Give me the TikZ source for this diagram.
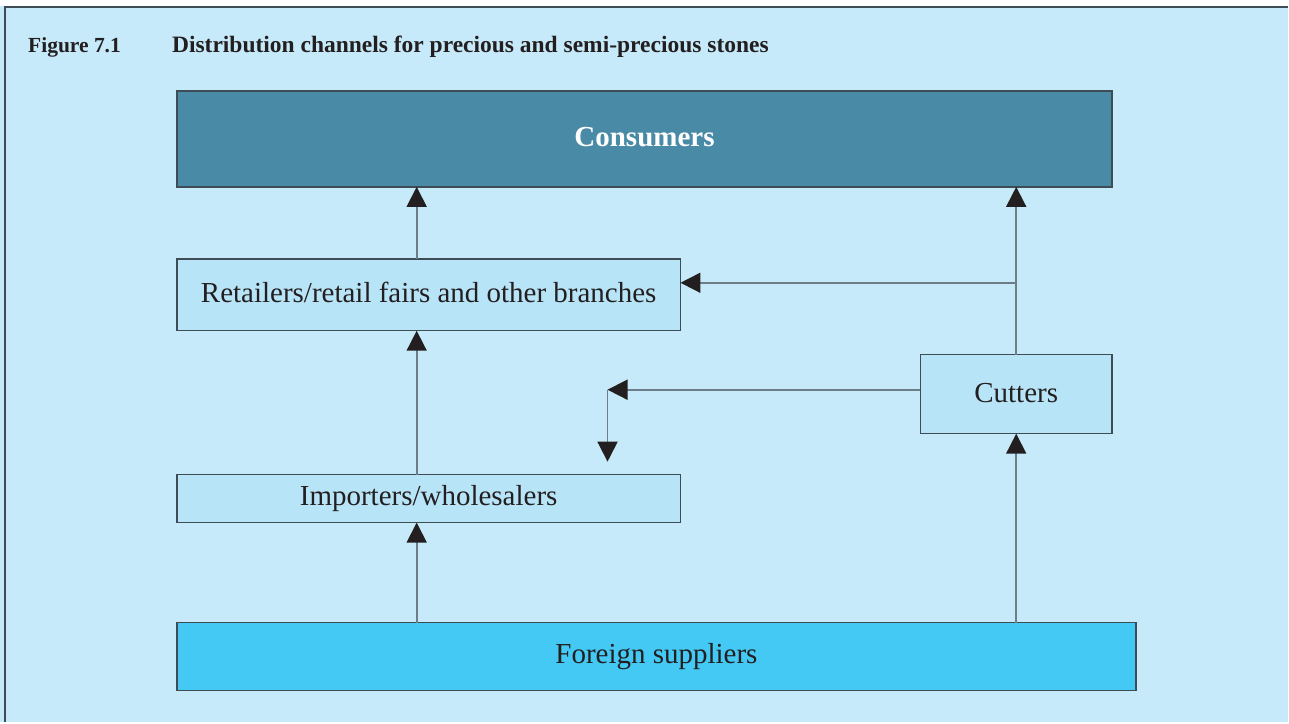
\documentclass[tikz,border=0pt]{standalone}
\usepackage{fontspec}
\setmainfont{Liberation Serif}
\usepackage{xcolor}
\usetikzlibrary{arrows.meta, positioning, calc}
\definecolor{pagebg}{RGB}{198, 234, 249}
\definecolor{boxfill}{RGB}{184, 228, 248}
\definecolor{darkbox}{RGB}{73, 139, 166}
\definecolor{brightbox}{RGB}{67, 201, 244}
\definecolor{edgegray}{RGB}{62, 76, 86}
\definecolor{linegray}{RGB}{110, 126, 136}
\definecolor{tipblack}{RGB}{35, 31, 32}

\begin{document}
\begin{tikzpicture}[x=1pt, y=-1pt,
    box/.style={draw=edgegray, line width=1.4pt, fill=boxfill, inner sep=0pt, outer sep=0pt,
        font=\fontsize{29}{33}\selectfont, text=tipblack},
    heading/.style={anchor=base west, inner sep=0pt, text=tipblack,
        font=\fontsize{22.5}{26}\selectfont\bfseries},
    flow/.style={draw=linegray, line width=1.8pt,
        -{Triangle[length=20pt, width=20pt, fill=tipblack, color=tipblack]}}]
    % Hintergrund und Rahmen
    \fill[pagebg] (0,0) rectangle (1289,723);
    \fill[white] (0,0) rectangle (1289,6);
    \draw[edgegray, line width=2pt] (1289,7) -- (5,7) -- (5,723);
    \useasboundingbox (0,0) rectangle (1289,723);

    % Titel
    \node[heading, font=\fontsize{21.5}{26}\selectfont\bfseries] (fig) at (28,53) {Figure 7.1};
    \node[heading, font=\fontsize{23.5}{26}\selectfont\bfseries] (title) at (172,53)
        {Distribution channels for precious and semi-precious stones};

    % Kaesten
    \node[box, fill=darkbox, text=white, font=\fontsize{29}{33}\selectfont\bfseries,
        minimum width=936pt, minimum height=96pt] (consumers) at (645,139) {\raisebox{3pt}{Consumers}};
    \node[box, minimum width=504pt, minimum height=72pt] (retail) at (429,295) {\raisebox{5pt}{Retailers/retail fairs and other branches}};
    \node[box, minimum width=192pt, minimum height=79pt] (cutters) at (1017,394.5) {\raisebox{3pt}{Cutters}};
    \node[box, minimum width=504pt, minimum height=48pt] (importers) at (429,499) {Importers/wholesalers};
    \node[box, fill=brightbox, minimum width=960pt, minimum height=68pt] (foreign) at (657,657) {Foreign suppliers};

    % Hilfspunkte
    \coordinate (left) at (417,0);
    \coordinate (branch) at (1017,283);
    \coordinate (corner) at (608,390);
    \coordinate (drop) at (608,462);

    % Pfeile
    \draw[flow] (foreign.north -| left) -- (importers.south -| left);
    \draw[flow] (importers.north -| left) -- (retail.south -| left);
    \draw[flow] (retail.north -| left) -- (consumers.south -| left);
    \draw[flow] (foreign.north -| cutters) -- (cutters.south);
    \draw[flow] (cutters.north) -- (consumers.south -| cutters);
    \draw[flow] (branch) -- (retail.east |- branch);
    \draw[flow] (cutters.west |- corner) -- (corner);
    \draw[flow] (corner) -- (drop);
\end{tikzpicture}
\end{document}
